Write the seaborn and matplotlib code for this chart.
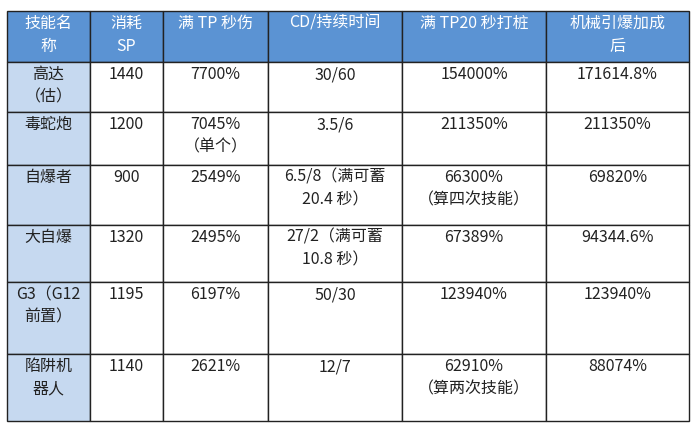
import matplotlib
matplotlib.use("Agg")
import matplotlib.pyplot as plt
import seaborn as sns
from matplotlib.patches import Rectangle

sns.set_theme(style="white")
plt.rcParams['font.family'] = ['Noto Sans CJK SC', 'DejaVu Sans']

headers = ["技能名\n称", "消耗\nSP", "满 TP 秒伤", "CD/持续时间", "满 TP20 秒打桩", "机械引爆加成\n后"]
skills = ["高达\n（估）", "毒蛇炮", "自爆者", "大自爆", "G3（G12\n前置）", "陷阱机\n器人"]
sp = ["1440", "1200", "900", "1320", "1195", "1140"]
dps = ["7700%", "7045%\n（单个）", "2549%", "2495%", "6197%", "2621%"]
cd = ["30/60", "3.5/6", "6.5/8（满可蓄\n20.4 秒）", "27/2（满可蓄\n10.8 秒）", "50/30", "12/7"]
pile = ["154000%", "211350%", "66300%\n（算四次技能）", "67389%", "123940%", "62910%\n（算两次技能）"]
mech = ["171614.8%", "211350%", "69820%", "94344.6%", "123940%", "88074%"]

xs = [7, 90, 163, 268, 402, 546, 689]
ys = [11, 62, 112, 165, 225, 282, 354, 421]

fig = plt.figure(figsize=(6.98, 4.30), dpi=100)
ax = fig.add_axes([0, 0, 1, 1])
ax.set_xlim(0, 698); ax.set_ylim(430, 0); ax.axis('off')

cols = [skills, sp, dps, cd, pile, mech]
for r in range(7):
    for c in range(6):
        x0, x1 = xs[c], xs[c+1]; y0, y1 = ys[r], ys[r+1]
        if r == 0:
            fc, tc, txt = "#5B93D3", "white", headers[c]
        else:
            fc = "#C6D9F0" if c == 0 else "white"
            tc, txt = "#222222", cols[c][r-1]
        ax.add_patch(Rectangle((x0, y0), x1-x0, y1-y0, facecolor=fc, edgecolor="#222222", lw=1))
        ax.text((x0+x1)/2, y0+4, txt, ha='center', va='top', color=tc,
                fontsize=11.5, linespacing=1.45, multialignment='center')

fig.savefig("out.png", dpi=100)
